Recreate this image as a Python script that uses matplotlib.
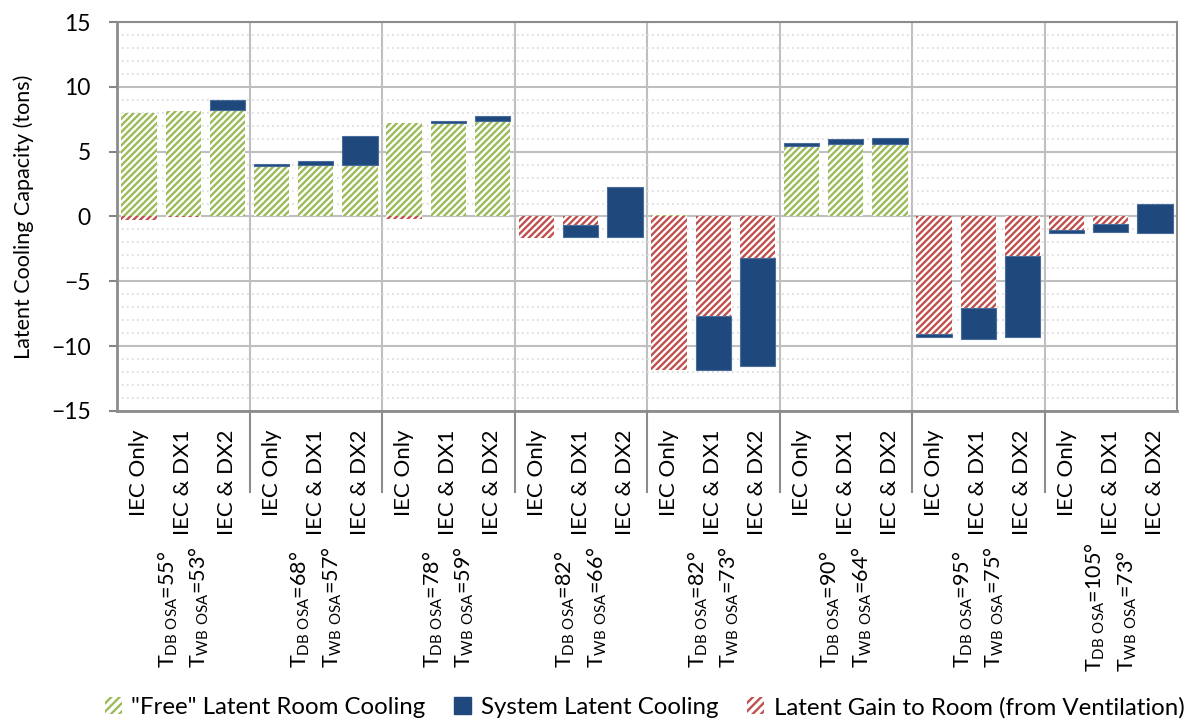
import matplotlib.pyplot as plt
import matplotlib.transforms as mtransforms
from matplotlib.patches import Patch
from matplotlib.ticker import MultipleLocator

plt.rcParams['font.family'] = ['Lato', 'DejaVu Sans']
plt.rcParams['mathtext.fontset'] = 'custom'
plt.rcParams['mathtext.rm'] = 'Lato'
plt.rcParams['hatch.linewidth'] = 1.7

# Дані
modes = ['IEC Only', 'IEC & DX1', 'IEC & DX2']
t_db = ['55', '68', '78', '82', '82', '90', '95', '105']
t_wb = ['53', '57', '59', '66', '73', '64', '75', '73']

free_cooling = [8.0, 8.15, 8.2, 3.9, 3.95, 3.95, 7.18, 7.23, 7.36,
                0, 0, 0, 0.1, 0, 0, 5.43, 5.56, 5.6,
                0, 0, 0, 0, 0, 0]
vent_gain = [-0.25, -0.05, 0, 0, 0, 0, -0.2, 0, 0,
             -1.67, -1.62, -1.62, -11.87, -11.82, -11.54, 0, 0, 0,
             -9.3, -9.44, -9.3, -1.3, -1.22, -1.28]
system_cooling = [0, 0, 0.8, 0.12, 0.35, 2.23, 0, 0.15, 0.38,
                  0, 0.98, 3.92, 0, 4.13, 8.31, 0.26, 0.39, 0.45,
                  0.25, 2.39, 6.27, 0.25, 0.62, 2.23]

green = '#9BBB59'
red = '#C0504D'
blue = '#1F497D'
hatch = '/////'

n_groups = len(t_db)
x = list(range(n_groups * len(modes)))
blue_base = [f + g for f, g in zip(free_cooling, vent_gain)]

fig = plt.figure(figsize=(11.87, 7.19), dpi=100)
ax = fig.add_axes([0.0986, 0.4284, 0.893, 0.541])

ax.bar(x, free_cooling, width=0.8, color='white', edgecolor=green, hatch=hatch, linewidth=0, zorder=3)
ax.bar(x, vent_gain, width=0.8, color='white', edgecolor=red, hatch=hatch, linewidth=0, zorder=3)
# системне охолодження - тільки ненульові
xb = [xi for xi, s in zip(x, system_cooling) if s != 0]
sb = [s for s in system_cooling if s != 0]
bb = [b for b, s in zip(blue_base, system_cooling) if s != 0]
ax.bar(xb, sb, bottom=bb, width=0.8, color=blue, edgecolor='#4A6C9B', linewidth=0.8, zorder=4)

# Осі та сітка
ax.set_xlim(-0.5, len(x) - 0.5)
ax.set_ylim(-15, 15)
ax.yaxis.set_major_locator(MultipleLocator(5))
ax.yaxis.set_minor_locator(MultipleLocator(1))
ax.grid(axis='y', which='major', color='#BFBFBF', linewidth=1.5, zorder=1)
ax.grid(axis='y', which='minor', color='#D9D9D9', linewidth=1.2, linestyle=(0, (1, 2)), zorder=1)
ax.tick_params(axis='y', which='major', length=6, width=1.5, color='#868686', labelsize=16.5, pad=13)
ax.tick_params(axis='y', which='minor', length=0)
for side in ['left', 'bottom', 'top', 'right']:
    ax.spines[side].set_color('#8C8C8C')
    ax.spines[side].set_linewidth(1.5)
ax.spines['left'].set_linewidth(2)
ax.spines['bottom'].set_linewidth(2)
ax.set_ylabel('Latent Cooling Capacity (tons)', fontsize=15.5, labelpad=12)

ax.set_xticks(x)
ax.set_xticklabels(modes * n_groups, rotation=90, fontsize=16)
ax.tick_params(axis='x', length=0, pad=13)

# Роздільники груп
trans = mtransforms.blended_transform_factory(ax.transData, ax.transAxes)
for i in range(1, n_groups):
    xs = i * len(modes) - 0.5
    ax.axvline(xs, color='#BFBFBF', linewidth=1.5, zorder=1)
    ax.plot([xs, xs], [0, -0.208], color='#8C8C8C', linewidth=1.5, transform=trans, clip_on=False)

# Підписи груп
for i in range(n_groups):
    label = ('T$_{\\mathregular{DB\\ OSA}}$=' + t_db[i] + '°\n'
             'T$_{\\mathregular{WB\\ OSA}}$=' + t_wb[i] + '°')
    ax.text(i * len(modes) + 1, -0.505, label, transform=trans, rotation=90,
            ha='center', va='center', multialignment='left', fontsize=15.5,
            linespacing=1.35)

handles = [Patch(facecolor='white', edgecolor=green, hatch='////', linewidth=0),
           Patch(facecolor=blue, edgecolor=blue),
           Patch(facecolor='white', edgecolor=red, hatch='////', linewidth=0)]
labels = ['"Free" Latent Room Cooling', 'System Latent Cooling',
          'Latent Gain to Room (from Ventilation)']
fig.legend(handles, labels, loc='center', bbox_to_anchor=(0.543, 0.016), ncol=3,
           frameon=False, fontsize=17.3, handlelength=0.7, handleheight=0.7,
           handletextpad=0.4, columnspacing=1.2)

plt.savefig('out.png', dpi=100)
